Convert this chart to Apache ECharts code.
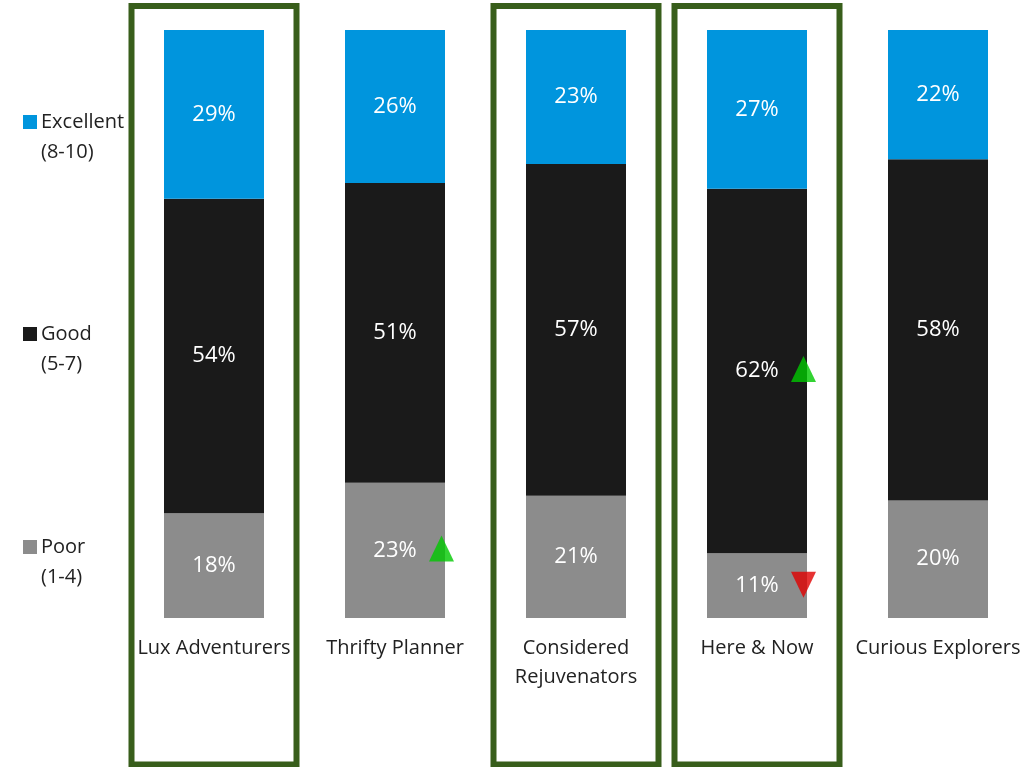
<!DOCTYPE html>
<html>
<head>
<meta charset="utf-8">
<title>Rating by segment</title>
<script src="https://cdn.jsdelivr.net/npm/echarts@6/dist/echarts.min.js"></script>
<style>
  html, body { margin: 0; padding: 0; background: #ffffff; }
  #chart { width: 1025px; height: 767px; }
</style>
</head>
<body>
<div id="chart"></div>
<script>
// Segments along the x axis
const categories = ['Lux Adventurers', 'Thrifty Planner', 'Considered\nRejuvenators', 'Here & Now', 'Curious Explorers'];

// Share of ratings per segment (%)
const excellent = [29, 26, 23, 27, 22];
const good      = [54, 51, 57, 62, 58];
const poor      = [18, 23, 21, 11, 20];

// Legend entries (two-line labels)
const legendNames = ['Excellent', 'Good', 'Poor'];
const legendRanges = ['(8-10)', '(5-7)', '(1-4)'];

// Segments framed with an outline
const highlighted = [0, 2, 3];

// Significant shifts: segment index, rating band, direction
const changes = [
  { cat: 1, band: 'poor', dir: 'up' },
  { cat: 3, band: 'good', dir: 'up' },
  { cat: 3, band: 'poor', dir: 'down' }
];

const COLORS = { excellent: '#0095dd', good: '#1a1a1a', poor: '#8c8c8c' };
const FONT = '"Open Sans", "Liberation Sans", sans-serif';

// Each bar is scaled to fill 100% of the column
const totals = categories.map((_, i) => excellent[i] + good[i] + poor[i]);
const share = (arr) => arr.map((v, i) => ({ value: v / totals[i] * 100, raw: v }));

// Midpoint of a band within its stacked bar, in axis units
function bandMid(i, band) {
  const p = poor[i] / totals[i] * 100;
  const g = good[i] / totals[i] * 100;
  if (band === 'poor') return p / 2;
  if (band === 'good') return p + g / 2;
  return p + g + (excellent[i] / totals[i] * 100) / 2;
}

const barLabel = {
  show: true,
  position: 'inside',
  color: '#ffffff',
  fontFamily: FONT,
  fontSize: 22,
  formatter: (p) => p.data.raw + '%'
};

function barSeries(name, arr, color) {
  return {
    name: name,
    type: 'bar',
    stack: 'total',
    barWidth: 100,
    data: share(arr),
    itemStyle: { color: color },
    label: barLabel,
    emphasis: { disabled: true },
    animation: false
  };
}

const upData = changes.filter(c => c.dir === 'up').map(c => [c.cat, bandMid(c.cat, c.band)]);
const downData = changes.filter(c => c.dir === 'down').map(c => [c.cat, bandMid(c.cat, c.band)]);

const chart = echarts.init(document.getElementById('chart'), null, { renderer: 'canvas' });

chart.setOption({
  backgroundColor: '#ffffff',
  animation: false,
  // Bars sit on the ticks, so the grid spans first to last bar centre
  grid: { left: 214, right: 87, top: 30, height: 588, containLabel: false },
  xAxis: {
    type: 'category',
    data: categories,
    boundaryGap: false,
    axisLine: { show: false },
    axisTick: { show: false },
    axisLabel: {
      color: '#222222',
      fontFamily: FONT,
      fontSize: 20,
      lineHeight: 29,
      margin: 16,
      interval: 0
    }
  },
  yAxis: {
    type: 'value',
    min: 0,
    max: 100,
    show: false,
    splitLine: { show: false }
  },
  series: [
    barSeries('Poor', poor, COLORS.poor),
    barSeries('Good', good, COLORS.good),
    barSeries('Excellent', excellent, COLORS.excellent),
    {
      name: 'Increase',
      type: 'scatter',
      data: upData,
      symbol: 'triangle',
      symbolSize: [25, 26],
      symbolOffset: [46.5, -2],
      itemStyle: { color: '#00c800' },
      z: 5,
      silent: true
    },
    {
      name: 'Decrease',
      type: 'scatter',
      data: downData,
      symbol: 'triangle',
      symbolRotate: 180,
      symbolSize: [25, 26],
      symbolOffset: [46.5, -1],
      itemStyle: { color: '#e00000' },
      z: 5,
      silent: true
    }
  ]
});

// Legend on the left and outline frames around the highlighted segments
const legendColors = [COLORS.excellent, COLORS.good, COLORS.poor];
const legendTops = [115, 327, 540];
const graphics = [];
legendNames.forEach((n, k) => {
  graphics.push({
    type: 'rect',
    shape: { x: 23, y: legendTops[k], width: 14, height: 14 },
    style: { fill: legendColors[k] },
    silent: true
  });
  graphics.push({
    type: 'text',
    x: 41,
    y: legendTops[k] - 8,
    style: {
      text: n + '\n' + legendRanges[k],
      fill: '#222222',
      font: '20px ' + FONT,
      lineHeight: 30,
      verticalAlign: 'top'
    },
    silent: true
  });
});

highlighted.forEach((i) => {
  const cx = chart.convertToPixel({ xAxisIndex: 0 }, i);
  graphics.push({
    type: 'rect',
    shape: { x: cx - 82.5, y: 6, width: 165, height: 758.5 },
    style: { fill: 'none', stroke: '#385e1b', lineWidth: 6 },
    z: 10,
    silent: true
  });
});

chart.setOption({ graphic: graphics });
</script>
</body>
</html>
